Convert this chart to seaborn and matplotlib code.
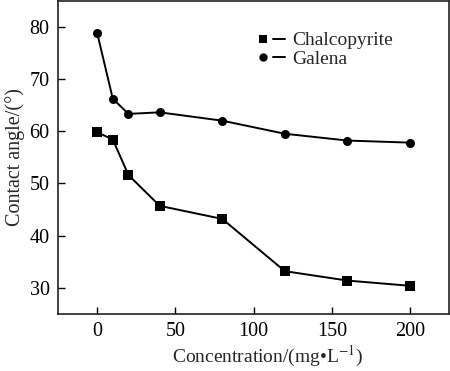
import matplotlib
matplotlib.use("Agg")
import matplotlib.pyplot as plt
import seaborn as sns
import pandas as pd
from matplotlib.lines import Line2D
from matplotlib.legend_handler import HandlerTuple

concentration = [0, 10, 20, 40, 80, 120, 160, 200]
chalcopyrite = [59.8, 58.4, 51.6, 45.7, 43.2, 33.2, 31.4, 30.4]
galena = [78.8, 66.2, 63.3, 63.6, 62.0, 59.5, 58.2, 57.8]
series_names = ["Chalcopyrite", "Galena"]
x_ticks = [0, 50, 100, 150, 200]
y_ticks = [30, 40, 50, 60, 70, 80]

df = pd.concat([
    pd.DataFrame({"x": concentration, "y": chalcopyrite, "s": series_names[0]}),
    pd.DataFrame({"x": concentration, "y": galena, "s": series_names[1]}),
])

sns.set_theme(style="ticks")
plt.rcParams["font.family"] = ["Liberation Serif", "DejaVu Serif"]
plt.rcParams["mathtext.fontset"] = "stix"

fig = plt.figure(figsize=(4.5, 3.71), dpi=100)
ax = fig.add_axes([0.129, 0.1536, 0.869, 0.845])

sns.lineplot(data=df, x="x", y="y", hue="s", style="s",
             palette=["black", "black"], markers=["s", "o"], dashes=False,
             markersize=6.5, linewidth=1.4, markeredgewidth=0, ax=ax, legend=False)

ax.set_xlim(-25, 225)
ax.set_ylim(25, 85)
ax.set_xticks(x_ticks)
ax.set_yticks(y_ticks)
ax.tick_params(direction="in", length=5, width=1, labelsize=14.5, colors="black", pad=6)
for s in ax.spines.values():
    s.set_linewidth(1.2)
    s.set_color("#222222")
ax.set_xlabel("Concentration/(mg\u2022L$^{-1}$)", fontsize=14)
ax.xaxis.set_label_coords(0.535, -0.097)
ax.set_ylabel("Contact angle/(\u00b0)", fontsize=14.5, labelpad=3)

handles = []
for m in ["s", "o"]:
    mk = Line2D([], [], color="black", marker=m, linestyle="none", markersize=6, markeredgewidth=0)
    ln = Line2D([], [], color="black", linewidth=1.4)
    handles.append((mk, ln))
leg = ax.legend(handles, series_names, handler_map={tuple: HandlerTuple(ndivide=None, pad=0.2)},
                loc="upper left", bbox_to_anchor=(0.487, 0.925), frameon=False, fontsize=14,
                handlelength=1.5, handletextpad=0.35, labelspacing=0.05, borderaxespad=0)

fig.savefig("out.png", dpi=100)
